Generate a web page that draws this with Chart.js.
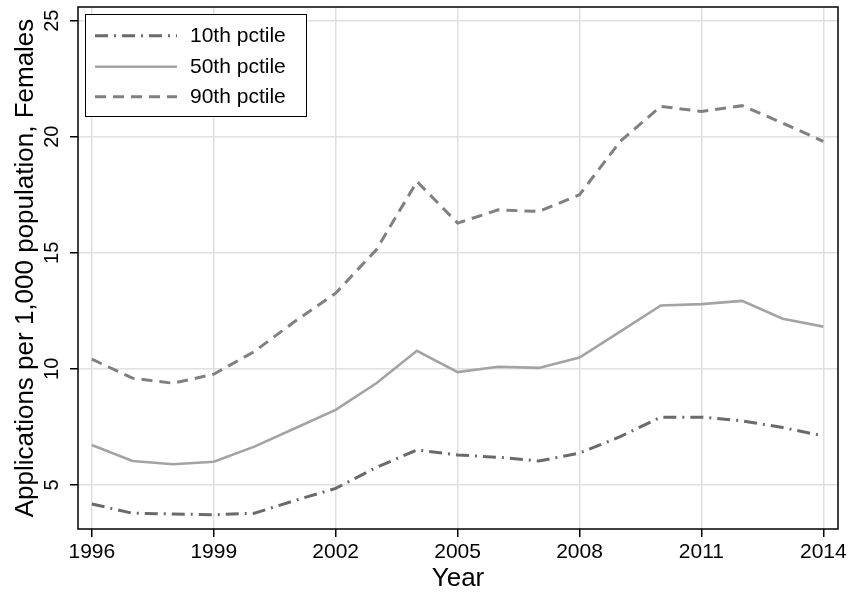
<!DOCTYPE html>
<html>
<head>
<meta charset="utf-8">
<script src="https://cdn.jsdelivr.net/npm/chart.js@4/dist/chart.umd.min.js"></script>
<style>
  html, body { margin: 0; padding: 0; background: #fff; }
  canvas { display: block; }
</style>
</head>
<body>
<canvas id="c" width="853" height="592"></canvas>
<script>
// Applications per 1,000 population (females), by percentile, 1996-2014
const years = [1996, 1997, 1998, 1999, 2000, 2001, 2002, 2003, 2004, 2005, 2006, 2007, 2008, 2009, 2010, 2011, 2012, 2013, 2014];
const p10 = [4.18, 3.78, 3.75, 3.71, 3.78, 4.33, 4.85, 5.75, 6.51, 6.29, 6.19, 6.03, 6.37, 7.08, 7.92, 7.92, 7.76, 7.47, 7.11];
const p50 = [6.72, 6.03, 5.89, 6.00, 6.65, 7.44, 8.23, 9.38, 10.78, 9.86, 10.09, 10.04, 10.49, 11.60, 12.73, 12.79, 12.93, 12.16, 11.82];
const p90 = [10.42, 9.60, 9.38, 9.77, 10.75, 12.05, 13.26, 15.13, 18.07, 16.28, 16.85, 16.78, 17.50, 19.80, 21.31, 21.09, 21.34, 20.59, 19.80];

const seriesNames = ['10th pctile', '50th pctile', '90th pctile'];
const xTicks = [1996, 1999, 2002, 2005, 2008, 2011, 2014];
const yTicks = [5, 10, 15, 20, 25];
const xTitle = 'Year';
const yTitle = 'Applications per 1,000 population, Females';

const FONT = '"Liberation Sans", Arial, Helvetica, sans-serif';

const styles = [
  { color: '#6a6a6a', width: 3, dash: [13, 6, 2, 6] },
  { color: '#a3a3a3', width: 2.6, dash: [] },
  { color: '#808080', width: 3, dash: [11, 7] }
];

const toPoints = vals => years.map((y, i) => ({ x: y, y: vals[i] }));

const datasets = [p10, p50, p90].map((vals, i) => ({
  label: seriesNames[i],
  data: toPoints(vals),
  borderColor: styles[i].color,
  borderWidth: styles[i].width,
  borderDash: styles[i].dash,
  pointRadius: 0,
  tension: 0,
  fill: false
}));

const decorations = {
  id: 'decorations',
  afterDraw(chart) {
    const { ctx, chartArea: a, scales } = chart;
    const xs = scales.x, ys = scales.y;
    ctx.save();

    // plot frame
    ctx.strokeStyle = '#000';
    ctx.lineWidth = 1.5;
    ctx.setLineDash([]);
    ctx.strokeRect(a.left, a.top, a.right - a.left, a.bottom - a.top);

    ctx.fillStyle = '#000';

    // x tick labels
    ctx.font = '21px ' + FONT;
    ctx.textAlign = 'center';
    ctx.textBaseline = 'alphabetic';
    xTicks.forEach(v => ctx.fillText(String(v), xs.getPixelForValue(v), 558));

    // y tick labels, rotated
    ctx.font = '20px ' + FONT;
    yTicks.forEach(v => {
      ctx.save();
      ctx.translate(57.5, ys.getPixelForValue(v));
      ctx.rotate(-Math.PI / 2);
      ctx.textAlign = 'center';
      ctx.textBaseline = 'alphabetic';
      ctx.fillText(String(v), 0, 0);
      ctx.restore();
    });

    // axis titles
    ctx.font = '26px ' + FONT;
    ctx.textAlign = 'center';
    ctx.fillText(xTitle, (a.left + a.right) / 2, 586);
    ctx.save();
    ctx.translate(33, (a.top + a.bottom) / 2);
    ctx.rotate(-Math.PI / 2);
    ctx.fillText(yTitle, 0, 0);
    ctx.restore();

    // legend
    const lx = 85.5, ly = 14.5, lw = 221, lh = 102;
    ctx.fillStyle = '#fff';
    ctx.fillRect(lx, ly, lw, lh);
    ctx.strokeStyle = '#000';
    ctx.lineWidth = 1;
    ctx.strokeRect(lx, ly, lw, lh);
    const rows = [35.7, 66.7, 96.7];
    ctx.font = '21px ' + FONT;
    ctx.textAlign = 'left';
    ctx.textBaseline = 'middle';
    datasets.forEach((ds, i) => {
      ctx.strokeStyle = ds.borderColor;
      ctx.lineWidth = ds.borderWidth;
      ctx.setLineDash(ds.borderDash);
      ctx.beginPath();
      ctx.moveTo(95, rows[i]);
      ctx.lineTo(177, rows[i]);
      ctx.stroke();
      ctx.setLineDash([]);
      ctx.fillStyle = '#000';
      ctx.fillText(ds.label, 190, rows[i] + 1);
    });

    ctx.restore();
  }
};

new Chart(document.getElementById('c'), {
  type: 'line',
  data: { datasets },
  options: {
    responsive: false,
    devicePixelRatio: 1,
    animation: false,
    events: [],
    layout: { padding: { top: 7, right: 15, left: 0, bottom: 0 } },
    plugins: { legend: { display: false }, tooltip: { enabled: false } },
    scales: {
      x: {
        type: 'linear',
        min: 1995.66,
        max: 2014.36,
        afterBuildTicks: s => { s.ticks = xTicks.map(v => ({ value: v })); },
        afterFit: s => { s.height = 63; },
        ticks: { display: false },
        border: { display: false },
        grid: { color: '#e0e0e0', lineWidth: 1.5, drawTicks: true, tickLength: 8, tickColor: '#000', tickWidth: 1.5 }
      },
      y: {
        type: 'linear',
        min: 3.1,
        max: 25.59,
        afterBuildTicks: s => { s.ticks = yTicks.map(v => ({ value: v })); },
        afterFit: s => { s.width = 78; },
        ticks: { display: false },
        border: { display: false },
        grid: { color: '#e0e0e0', lineWidth: 1.5, drawTicks: true, tickLength: 8, tickColor: '#000', tickWidth: 1.5 }
      }
    }
  },
  plugins: [decorations]
});
</script>
</body>
</html>
